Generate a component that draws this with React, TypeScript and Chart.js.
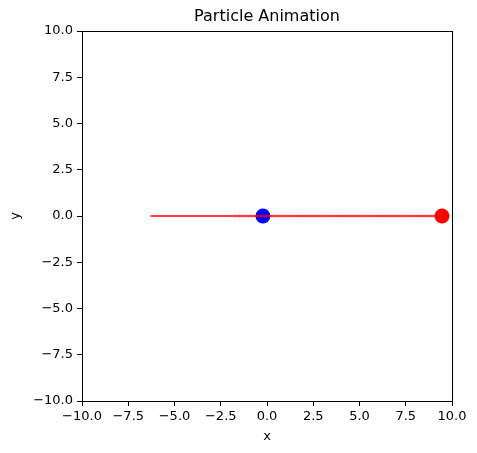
import React, { useEffect, useRef } from "react";
import { Chart, registerables } from "chart.js";

Chart.register(...registerables);

const trailX = [-6.3, 9.46];
const trailY = [0, 0];
const denseTrailX = [-1.8, 9.46];
const denseTrailY = [0, 0];
const blueParticle = { x: -0.22, y: 0 };
const redParticle = { x: 9.46, y: 0 };
const axisMin = -10;
const axisMax = 10;
const tickStep = 2.5;
const titleText = "Particle Animation";
const xLabel = "x";
const yLabel = "y";

const FONT = "'DejaVu Sans', sans-serif";

const fmt = (v: number) => {
  const s = Math.abs(v).toFixed(1);
  return v < 0 ? "\u2212" + s : s;
};

export default function App() {
  const ref = useRef<HTMLCanvasElement | null>(null);
  useEffect(() => {
    if (!ref.current) return;
    const framePlugin = {
      id: "frame",
      afterDraw(chart: any) {
        const { ctx, chartArea } = chart;
        ctx.save();
        ctx.strokeStyle = "#000";
        ctx.lineWidth = 1;
        ctx.strokeRect(
          Math.round(chartArea.left) + 0.5,
          Math.round(chartArea.top) + 0.5,
          Math.round(chartArea.right - chartArea.left),
          Math.round(chartArea.bottom - chartArea.top)
        );
        ctx.fillStyle = "#000";
        ctx.font = `16px ${FONT}`;
        ctx.textAlign = "center";
        ctx.textBaseline = "middle";
        ctx.fillText(titleText, (chartArea.left + chartArea.right) / 2, 17);
        ctx.restore();
      },
    };
    const chart = new Chart(ref.current, {
      type: "scatter",
      data: {
        datasets: [
          {
            type: "line",
            data: trailX.map((x, i) => ({ x, y: trailY[i] })),
            borderColor: "rgba(255,0,0,1)",
            borderWidth: 1.5,
            pointRadius: 0,
            showLine: true,
          } as any,
          {
            type: "line",
            data: denseTrailX.map((x, i) => ({ x, y: denseTrailY[i] })),
            borderColor: "rgba(255,0,0,0.35)",
            borderWidth: 3.5,
            borderDash: [1, 1.5],
            pointRadius: 0,
            showLine: true,
          } as any,
          {
            data: [blueParticle],
            backgroundColor: "#0000ff",
            borderWidth: 0,
            pointRadius: 7.5,
          },
          {
            data: [redParticle],
            backgroundColor: "#ff0000",
            borderWidth: 0,
            pointRadius: 7.5,
          },
        ],
      },
      options: {
        responsive: false,
        animation: false,
        layout: { padding: { top: 31, right: 25, left: 0, bottom: 0 } },
        plugins: {
          legend: { display: false },
          tooltip: { enabled: false },
          title: { display: false },
        },
        scales: {
          x: {
            type: "linear",
            min: axisMin,
            max: axisMax,
            afterBuildTicks(scale: any) {
              const t = [];
              for (let v = axisMin; v <= axisMax + 1e-9; v += tickStep) t.push({ value: v });
              scale.ticks = t;
            },
            afterFit(scale: any) {
              scale.height = 52;
            },
            ticks: {
              color: "#000",
              font: { family: FONT, size: 13 },
              padding: 3,
              maxRotation: 0,
              autoSkip: false,
              callback: (v: any) => fmt(Number(v)),
            },
            grid: {
              display: true,
              drawOnChartArea: false,
              drawTicks: true,
              tickLength: 5,
              color: "#000",
              lineWidth: 1,
            },
            border: { display: true, color: "#000", width: 1 },
            title: {
              display: true,
              text: xLabel,
              color: "#000",
              font: { family: FONT, size: 13 },
              padding: { top: 0, bottom: 9 },
            },
          },
          y: {
            type: "linear",
            min: axisMin,
            max: axisMax,
            afterBuildTicks(scale: any) {
              const t = [];
              for (let v = axisMin; v <= axisMax + 1e-9; v += tickStep) t.push({ value: v });
              scale.ticks = t;
            },
            afterFit(scale: any) {
              scale.width = 82;
            },
            ticks: {
              color: "#000",
              font: { family: FONT, size: 13 },
              padding: 4,
              autoSkip: false,
              callback: (v: any) => fmt(Number(v)),
            },
            grid: {
              display: true,
              drawOnChartArea: false,
              drawTicks: true,
              tickLength: 5,
              color: "#000",
              lineWidth: 1,
            },
            border: { display: true, color: "#000", width: 1 },
            title: {
              display: true,
              text: yLabel,
              color: "#000",
              font: { family: FONT, size: 13 },
              padding: { top: 8, bottom: 0 },
            },
          },
        },
      } as any,
      plugins: [framePlugin],
    });
    return () => chart.destroy();
  }, []);
  return (
    <div style={{ position: "fixed", left: 0, top: 0, width: 477, height: 453, background: "#fff" }}>
      <canvas ref={ref} width={477} height={453} style={{ width: 477, height: 453, display: "block" }} />
    </div>
  );
}
